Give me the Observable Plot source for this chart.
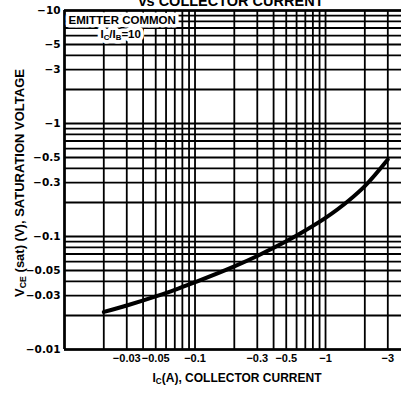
<!DOCTYPE html>
<html>
<head>
<meta charset="utf-8">
<script src="https://cdn.jsdelivr.net/npm/d3@7"></script>
<script src="https://cdn.jsdelivr.net/npm/@observablehq/plot@0.6"></script>
<style>
  html, body { margin: 0; padding: 0; background: #fff; }
</style>
</head>
<body>
<div id="chart"></div>
<script>
// Collector current Ic (A) and saturation voltage VCE(sat) (V)
const ic  = [-0.02, -0.03, -0.05, -0.07, -0.1, -0.2, -0.3, -0.5, -0.7, -1, -1.5, -2, -3];
const vce = [-0.0215, -0.0245, -0.0295, -0.0337, -0.0394, -0.0544, -0.0673, -0.0906, -0.113, -0.146, -0.207, -0.279, -0.48];

const xTicks = [-0.03, -0.05, -0.1, -0.3, -0.5, -1, -3];
const yTicks = [-10, -5, -3, -1, -0.5, -0.3, -0.1, -0.05, -0.03, -0.01];

const titleText = "vs COLLECTOR CURRENT";
const yLabelText = "VCE (sat) (V), SATURATION VOLTAGE";
const xLabelText = "IC(A), COLLECTOR CURRENT";
const noteText1 = "EMITTER COMMON";
const noteText2 = "IC/IB=10";

const data = ic.map((x, i) => ({x, y: vce[i]}));
const fmt = d3.format("~g");
const grid = {stroke: "black", strokeOpacity: 1, strokeWidth: 1.8};
const lib = "Liberation Sans, Arial, sans-serif";
const yTickFont = {fontFamily: "DejaVu Sans", fontSize: 10.5, fontWeight: "bold", fill: "black"};
const xTickFont = {fontFamily: lib, fontSize: 11, fontWeight: "bold", fill: "black"};
const note = {frameAnchor: "top-left", textAnchor: "start", lineAnchor: "top", fontFamily: lib, fontSize: 11.5, fontWeight: "bold"};

const chart = Plot.plot({
  width: 401,
  height: 400,
  marginLeft: 64,
  marginRight: 0,
  marginTop: 10,
  marginBottom: 51,
  style: {fontFamily: "DejaVu Sans", fontWeight: "bold", fontSize: "10.5px", background: "white", color: "black"},
  x: {type: "log", domain: [-0.01, -3.82], axis: null},
  y: {type: "log", domain: [-0.01, -10], axis: null},
  marks: [
    Plot.gridX({ticks: 30, ...grid}),
    Plot.gridY({ticks: 30, ...grid}),
    Plot.ruleX([-0.01], {stroke: "black", strokeWidth: 2.6}),
    Plot.ruleY([-0.01, -10], {stroke: "black", strokeWidth: 2.6}),
    // tick labels
    Plot.text(xTicks, {x: d => d, text: fmt, frameAnchor: "bottom", lineAnchor: "top", dy: 5, ...xTickFont}),
    Plot.text(yTicks, {y: d => d, text: fmt, frameAnchor: "left", textAnchor: "end", lineAnchor: "middle", dx: -4, ...yTickFont}),
    Plot.line(data, {x: "x", y: "y", stroke: "black", strokeWidth: 4, curve: "monotone-x"}),
    // note halos, then note text
    Plot.text([noteText1], {text: d => d, ...note, dx: 4, dy: 5, fill: "white", stroke: "white", strokeWidth: 7}),
    Plot.text([noteText2], {text: d => d, ...note, dx: 36, dy: 19, fill: "white", stroke: "white", strokeWidth: 7}),
    Plot.text([noteText1], {text: d => d, ...note, dx: 4, dy: 5, fill: "black"}),
    Plot.text([noteText2], {text: d => d, ...note, dx: 36, dy: 19, fill: "black"}),
    Plot.text([titleText], {text: d => d, frameAnchor: "top", lineAnchor: "bottom", dx: -2, dy: -5,
      fontFamily: lib, fontSize: 14.5, fontWeight: "bold", fill: "black"}),
    Plot.text([yLabelText], {text: d => d, frameAnchor: "left", textAnchor: "middle", rotate: -90, lineAnchor: "middle", dx: -45, dy: 3,
      fontFamily: lib, fontSize: 13, fontWeight: "bold", fill: "black"}),
    Plot.text([xLabelText], {text: d => d, frameAnchor: "bottom", textAnchor: "middle", lineAnchor: "middle", dx: 4, dy: 29,
      fontFamily: lib, fontSize: 12, fontWeight: "bold", fill: "black"})
  ]
});

// subscripts
function subscriptify(svg, full, parts) {
  d3.select(svg).selectAll("text").filter(function() { return this.textContent === full; }).each(function() {
    const t = d3.select(this);
    t.text(null);
    parts.forEach(([s, sub]) => {
      t.append("tspan").attr("font-size", sub ? "0.68em" : null).attr("baseline-shift", sub ? "-25%" : null).text(s);
    });
  });
}
subscriptify(chart, yLabelText, [["V", false], ["CE", true], [" (sat) (V), SATURATION VOLTAGE", false]]);
subscriptify(chart, xLabelText, [["I", false], ["C", true], ["(A), COLLECTOR CURRENT", false]]);
subscriptify(chart, noteText2, [["I", false], ["C", true], ["/I", false], ["B", true], ["=10", false]]);

document.getElementById("chart").appendChild(chart);
</script>
</body>
</html>
